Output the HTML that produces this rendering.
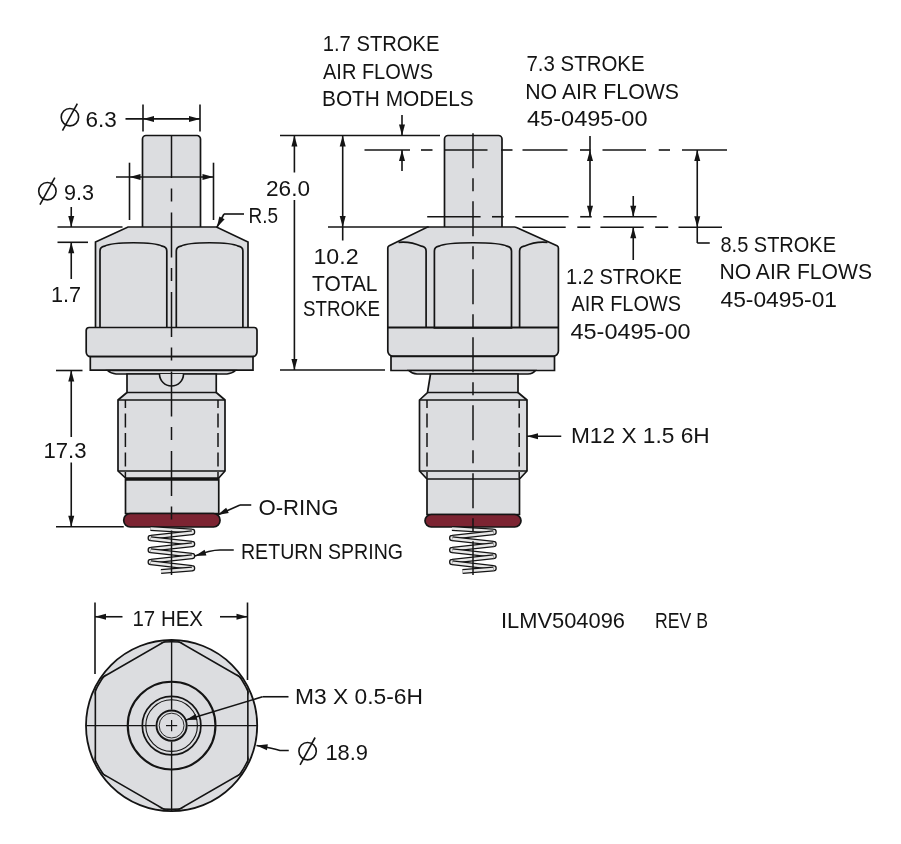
<!DOCTYPE html><html><head><meta charset="utf-8"><style>html,body{margin:0;padding:0;background:#fff;}svg{display:block}</style></head><body>
<svg width="901" height="844" viewBox="0 0 901 844" stroke="#141414" fill="none" stroke-linecap="butt">
<rect width="901" height="844" fill="#fff" stroke="none"/>
<path d="M142.5 227V139a3.5 3.5 0 0 1 3.5-3.5H197a3.5 3.5 0 0 1 3.5 3.5V227" fill="#dcdde0" stroke-width="1.7"/>
<path d="M128 227H216.5L248 242V328H95.5V242Z" fill="#dcdde0" stroke-width="1.7"/>
<path d="M100 328V251C100 248 101.5 246.8 104.5 246.2C113 241.6 153.8 241.6 162.3 246.2C165.3 246.8 166.8 248 166.8 251V328Z" fill="#dcdde0" stroke-width="1.7"/>
<path d="M176.3 328V251C176.3 248 177.8 246.8 180.8 246.2C189.3 241.6 229.9 241.6 238.4 246.2C241.4 246.8 242.9 248 242.9 251V328Z" fill="#dcdde0" stroke-width="1.7"/>
<path d="M89.25 327.5H254a3 3 0 0 1 3 3V352.1a4.5 4.5 0 0 1-4.5 4.5H90.7a4.5 4.5 0 0 1-4.5-4.5V330.5a3 3 0 0 1 3-3Z" fill="#dcdde0" stroke-width="1.7"/>
<path d="M90.3 356.6H253V370.2H90.3Z" fill="#dcdde0" stroke-width="1.7"/>
<path d="M107.5 370.5Q111 373.7 116 374H227Q232 373.7 235.5 370.5Z" fill="#dcdde0" stroke-width="1.6"/>
<path d="M127 374V392.5L118 400V471L125.5 478V513.5H218.75V478L225 471V400L216.25 392.5V374Z" fill="#dcdde0" stroke-width="1.7"/>
<line x1="127" y1="392.5" x2="216.25" y2="392.5" stroke-width="1.6" />
<line x1="118" y1="400" x2="225" y2="400" stroke-width="1.6" />
<line x1="118" y1="471" x2="225" y2="471" stroke-width="1.6" />
<line x1="125.5" y1="479" x2="218.75" y2="479" stroke-width="3.6" />
<path d="M159.5 374A12 12 0 0 0 183.5 374" fill="#dcdde0" stroke-width="1.6"/>
<line x1="125.4" y1="400" x2="125.4" y2="478" stroke-width="1.5" stroke-dasharray="14 5.5" stroke-dashoffset="6"/>
<line x1="218" y1="400" x2="218" y2="478" stroke-width="1.5" stroke-dasharray="14 5.5" stroke-dashoffset="6"/>
<rect x="123.75" y="513.5" width="96.25" height="13.5" rx="6.5" fill="#7c2432" stroke-width="1.7"/>
<path d="M150.50 528.60L192.00 531.10A0.8 0.8 0 0 1 192.00 532.70" fill="none" stroke="#141414" stroke-width="5.0" stroke-linejoin="round" stroke-linecap="butt"/>
<path d="M150.50 528.60L192.00 531.10A0.8 0.8 0 0 1 192.00 532.70" fill="none" stroke="#e8e8e8" stroke-width="2.5" stroke-linejoin="round" stroke-linecap="butt"/>
<path d="M192.00 532.70L150.80 537.20A0.8 0.8 0 0 0 150.80 538.80" fill="none" stroke="#141414" stroke-width="5.0" stroke-linejoin="round" stroke-linecap="butt"/>
<path d="M192.00 532.70L150.80 537.20A0.8 0.8 0 0 0 150.80 538.80" fill="none" stroke="#e8e8e8" stroke-width="2.5" stroke-linejoin="round" stroke-linecap="butt"/>
<path d="M150.80 538.80L192.00 543.20A0.8 0.8 0 0 1 192.00 544.80" fill="none" stroke="#141414" stroke-width="5.0" stroke-linejoin="round" stroke-linecap="butt"/>
<path d="M150.80 538.80L192.00 543.20A0.8 0.8 0 0 1 192.00 544.80" fill="none" stroke="#e8e8e8" stroke-width="2.5" stroke-linejoin="round" stroke-linecap="butt"/>
<path d="M192.00 544.80L150.80 549.20A0.8 0.8 0 0 0 150.80 550.80" fill="none" stroke="#141414" stroke-width="5.0" stroke-linejoin="round" stroke-linecap="butt"/>
<path d="M192.00 544.80L150.80 549.20A0.8 0.8 0 0 0 150.80 550.80" fill="none" stroke="#e8e8e8" stroke-width="2.5" stroke-linejoin="round" stroke-linecap="butt"/>
<path d="M150.80 550.80L192.00 555.20A0.8 0.8 0 0 1 192.00 556.80" fill="none" stroke="#141414" stroke-width="5.0" stroke-linejoin="round" stroke-linecap="butt"/>
<path d="M150.80 550.80L192.00 555.20A0.8 0.8 0 0 1 192.00 556.80" fill="none" stroke="#e8e8e8" stroke-width="2.5" stroke-linejoin="round" stroke-linecap="butt"/>
<path d="M192.00 556.80L150.80 561.20A0.8 0.8 0 0 0 150.80 562.80" fill="none" stroke="#141414" stroke-width="5.0" stroke-linejoin="round" stroke-linecap="butt"/>
<path d="M192.00 556.80L150.80 561.20A0.8 0.8 0 0 0 150.80 562.80" fill="none" stroke="#e8e8e8" stroke-width="2.5" stroke-linejoin="round" stroke-linecap="butt"/>
<path d="M150.80 562.80L192.00 567.40A0.8 0.8 0 0 1 192.00 569.00" fill="none" stroke="#141414" stroke-width="5.0" stroke-linejoin="round" stroke-linecap="butt"/>
<path d="M150.80 562.80L192.00 567.40A0.8 0.8 0 0 1 192.00 569.00" fill="none" stroke="#e8e8e8" stroke-width="2.5" stroke-linejoin="round" stroke-linecap="butt"/>
<path d="M192.00 569.00L161.00 571.60" fill="none" stroke="#141414" stroke-width="5.0" stroke-linejoin="round" stroke-linecap="butt"/>
<path d="M192.00 569.00L161.00 571.60" fill="none" stroke="#e8e8e8" stroke-width="2.5" stroke-linejoin="round" stroke-linecap="butt"/>
<line x1="171.5" y1="135.5" x2="171.5" y2="575" stroke-width="1.5" stroke-dasharray="45 10.5 13 11" stroke-dashoffset="2.5"/>
<path d="M444.5 227V139a3.5 3.5 0 0 1 3.5-3.5H498.5a3.5 3.5 0 0 1 3.5 3.5V227" fill="#dcdde0" stroke-width="1.7"/>
<path d="M427.5 227H514.5Q515.5 227 516.5 227.5L557 245.8Q558.4 246.5 558.4 248V351a5 5 0 0 1-5 5H392.8a5 5 0 0 1-5-5V248Q387.8 246.5 389.2 245.8Z" fill="#dcdde0" stroke-width="1.7"/>
<path d="M426.1 328V251C426.1 248 424.6 246.8 421.6 246.2Q410.1 241 398.5 242.3" fill="none" stroke-width="1.7"/>
<path d="M434.4 328V251C434.4 248 435.9 246.8 438.9 246.2C447.4 241.6 498.5 241.6 507 246.2C510 246.8 511.5 248 511.5 251V328Z" fill="#dcdde0" stroke-width="1.7"/>
<path d="M519.6 328V251C519.6 248 521.1 246.8 524.1 246.2Q535.6 241 547.5 242.3" fill="none" stroke-width="1.7"/>
<line x1="387.5" y1="327.5" x2="558.75" y2="327.5" stroke-width="1.9" />
<path d="M391 356.5H554.5V370.5H391Z" fill="#dcdde0" stroke-width="1.7"/>
<path d="M408.75 370.5Q412 373.7 417 374H528Q533 373.7 535.5 370.5Z" fill="#dcdde0" stroke-width="1.6"/>
<path d="M430.5 374L427.5 392.5L419.5 400V471L427 479V514.5H519.5V479L527 471V400L518 392.5V374Z" fill="#dcdde0" stroke-width="1.7"/>
<line x1="427.5" y1="392.5" x2="518" y2="392.5" stroke-width="1.6" />
<line x1="419.5" y1="400" x2="527" y2="400" stroke-width="1.6" />
<line x1="419.5" y1="471" x2="527" y2="471" stroke-width="1.6" />
<line x1="427" y1="479" x2="519.5" y2="479" stroke-width="1.6" />
<line x1="427" y1="400" x2="427" y2="478" stroke-width="1.5" stroke-dasharray="14 5.5" stroke-dashoffset="6"/>
<line x1="519.2" y1="400" x2="519.2" y2="478" stroke-width="1.5" stroke-dasharray="14 5.5" stroke-dashoffset="6"/>
<rect x="425" y="514.5" width="96" height="12.5" rx="6.25" fill="#7c2432" stroke-width="1.7"/>
<path d="M452.00 528.60L493.50 531.10A0.8 0.8 0 0 1 493.50 532.70" fill="none" stroke="#141414" stroke-width="5.0" stroke-linejoin="round" stroke-linecap="butt"/>
<path d="M452.00 528.60L493.50 531.10A0.8 0.8 0 0 1 493.50 532.70" fill="none" stroke="#e8e8e8" stroke-width="2.5" stroke-linejoin="round" stroke-linecap="butt"/>
<path d="M493.50 532.70L452.30 537.20A0.8 0.8 0 0 0 452.30 538.80" fill="none" stroke="#141414" stroke-width="5.0" stroke-linejoin="round" stroke-linecap="butt"/>
<path d="M493.50 532.70L452.30 537.20A0.8 0.8 0 0 0 452.30 538.80" fill="none" stroke="#e8e8e8" stroke-width="2.5" stroke-linejoin="round" stroke-linecap="butt"/>
<path d="M452.30 538.80L493.50 543.20A0.8 0.8 0 0 1 493.50 544.80" fill="none" stroke="#141414" stroke-width="5.0" stroke-linejoin="round" stroke-linecap="butt"/>
<path d="M452.30 538.80L493.50 543.20A0.8 0.8 0 0 1 493.50 544.80" fill="none" stroke="#e8e8e8" stroke-width="2.5" stroke-linejoin="round" stroke-linecap="butt"/>
<path d="M493.50 544.80L452.30 549.20A0.8 0.8 0 0 0 452.30 550.80" fill="none" stroke="#141414" stroke-width="5.0" stroke-linejoin="round" stroke-linecap="butt"/>
<path d="M493.50 544.80L452.30 549.20A0.8 0.8 0 0 0 452.30 550.80" fill="none" stroke="#e8e8e8" stroke-width="2.5" stroke-linejoin="round" stroke-linecap="butt"/>
<path d="M452.30 550.80L493.50 555.20A0.8 0.8 0 0 1 493.50 556.80" fill="none" stroke="#141414" stroke-width="5.0" stroke-linejoin="round" stroke-linecap="butt"/>
<path d="M452.30 550.80L493.50 555.20A0.8 0.8 0 0 1 493.50 556.80" fill="none" stroke="#e8e8e8" stroke-width="2.5" stroke-linejoin="round" stroke-linecap="butt"/>
<path d="M493.50 556.80L452.30 561.20A0.8 0.8 0 0 0 452.30 562.80" fill="none" stroke="#141414" stroke-width="5.0" stroke-linejoin="round" stroke-linecap="butt"/>
<path d="M493.50 556.80L452.30 561.20A0.8 0.8 0 0 0 452.30 562.80" fill="none" stroke="#e8e8e8" stroke-width="2.5" stroke-linejoin="round" stroke-linecap="butt"/>
<path d="M452.30 562.80L493.50 567.40A0.8 0.8 0 0 1 493.50 569.00" fill="none" stroke="#141414" stroke-width="5.0" stroke-linejoin="round" stroke-linecap="butt"/>
<path d="M452.30 562.80L493.50 567.40A0.8 0.8 0 0 1 493.50 569.00" fill="none" stroke="#e8e8e8" stroke-width="2.5" stroke-linejoin="round" stroke-linecap="butt"/>
<path d="M493.50 569.00L462.50 571.60" fill="none" stroke="#141414" stroke-width="5.0" stroke-linejoin="round" stroke-linecap="butt"/>
<path d="M493.50 569.00L462.50 571.60" fill="none" stroke="#e8e8e8" stroke-width="2.5" stroke-linejoin="round" stroke-linecap="butt"/>
<line x1="473" y1="133.3" x2="473" y2="575" stroke-width="1.5" stroke-dasharray="35 10 13 10"/>
<defs><clipPath id="cc"><circle cx="171.6" cy="725.6" r="84.64999999999999"/></clipPath><clipPath id="hc"><path d="M171.6 636.57L248.7 681.09L248.7 770.11L171.6 814.63L94.5 770.11L94.5 681.09Z"/></clipPath></defs>
<circle cx="171.6" cy="725.6" r="85.6" fill="#dcdde0" stroke="none"/>
<path d="M171.6 637.55L247.85 681.58L247.85 769.62L171.6 813.65L95.35 769.62L95.35 681.58Z" fill="none" stroke-width="1.6" clip-path="url(#cc)"/>
<circle cx="171.6" cy="725.6" r="83.8" fill="none" stroke-width="1.6" clip-path="url(#hc)"/>
<circle cx="171.6" cy="725.6" r="85.6" fill="none" stroke-width="1.8"/>
<line x1="86" y1="725.6" x2="155.6" y2="725.6" stroke-width="1.4" />
<line x1="187.6" y1="725.6" x2="257.2" y2="725.6" stroke-width="1.4" />
<line x1="171.6" y1="640" x2="171.6" y2="709.6" stroke-width="1.4" />
<line x1="171.6" y1="741.6" x2="171.6" y2="811.2" stroke-width="1.4" />
<circle cx="171.6" cy="725.6" r="43.85" fill="none" stroke-width="2.1"/>
<circle cx="171.6" cy="725.6" r="29.3" fill="none" stroke-width="1.7"/>
<circle cx="171.6" cy="725.6" r="25.8" fill="none" stroke-width="1.1"/>
<circle cx="171.6" cy="725.6" r="15.1" fill="none" stroke-width="1.9"/>
<circle cx="171.6" cy="725.6" r="12.4" fill="none" stroke-width="0.9"/>
<line x1="166" y1="725.6" x2="177.2" y2="725.6" stroke-width="1.2" />
<line x1="171.6" y1="720" x2="171.6" y2="731.2" stroke-width="1.2" />
<line x1="143" y1="104.4" x2="143" y2="131.6" stroke-width="1.6" />
<line x1="200" y1="104.4" x2="200" y2="131.6" stroke-width="1.6" />
<line x1="125.5" y1="118.9" x2="200" y2="118.9" stroke-width="1.6" />
<path d="M143 118.9L154 115.9L154 121.9Z" fill="#141414" stroke="none"/>
<path d="M200 118.9L189 121.9L189 115.9Z" fill="#141414" stroke="none"/>
<line x1="129.5" y1="162.7" x2="129.5" y2="220" stroke-width="1.6" />
<line x1="213.5" y1="162.7" x2="213.5" y2="220" stroke-width="1.6" />
<line x1="116" y1="177" x2="213.5" y2="177" stroke-width="1.6" />
<path d="M129.5 177L140.5 174L140.5 180Z" fill="#141414" stroke="none"/>
<path d="M213.5 177L202.5 180L202.5 174Z" fill="#141414" stroke="none"/>
<line x1="224" y1="214" x2="244" y2="214" stroke-width="1.6" />
<line x1="216.8" y1="227.5" x2="224" y2="214" stroke-width="1.6" />
<path d="M216.8 227.5L219.34 216.38L224.63 219.21Z" fill="#141414" stroke="none"/>
<line x1="57.5" y1="227" x2="122.5" y2="227" stroke-width="1.6" />
<line x1="57.5" y1="242.3" x2="88" y2="242.3" stroke-width="1.6" />
<line x1="71.25" y1="207" x2="71.25" y2="227" stroke-width="1.6" />
<path d="M71.25 227L68.25 216L74.25 216Z" fill="#141414" stroke="none"/>
<line x1="71.25" y1="242.3" x2="71.25" y2="279" stroke-width="1.6" />
<path d="M71.25 242.3L74.25 253.3L68.25 253.3Z" fill="#141414" stroke="none"/>
<line x1="56" y1="370.5" x2="82.5" y2="370.5" stroke-width="1.6" />
<line x1="56" y1="526.8" x2="123.75" y2="526.8" stroke-width="1.6" />
<line x1="71.25" y1="370.5" x2="71.25" y2="437" stroke-width="1.6" />
<path d="M71.25 370.5L74.25 381.5L68.25 381.5Z" fill="#141414" stroke="none"/>
<line x1="71.25" y1="462.5" x2="71.25" y2="526.8" stroke-width="1.6" />
<path d="M71.25 526.8L68.25 515.8L74.25 515.8Z" fill="#141414" stroke="none"/>
<line x1="280" y1="135.5" x2="440" y2="135.5" stroke-width="1.6" />
<line x1="280" y1="370" x2="385" y2="370" stroke-width="1.6" />
<line x1="294.4" y1="135.5" x2="294.4" y2="172.5" stroke-width="1.6" />
<line x1="294.4" y1="200" x2="294.4" y2="370" stroke-width="1.6" />
<path d="M294.4 135.5L297.4 146.5L291.4 146.5Z" fill="#141414" stroke="none"/>
<path d="M294.4 370L291.4 359L297.4 359Z" fill="#141414" stroke="none"/>
<line x1="328" y1="227" x2="428.75" y2="227" stroke-width="1.6" />
<line x1="342.7" y1="135.5" x2="342.7" y2="240.5" stroke-width="1.6" />
<path d="M342.7 135.5L345.7 146.5L339.7 146.5Z" fill="#141414" stroke="none"/>
<path d="M342.7 227L339.7 216L345.7 216Z" fill="#141414" stroke="none"/>
<line x1="402" y1="115" x2="402" y2="135.5" stroke-width="1.6" />
<path d="M402 135.5L399 124.5L405 124.5Z" fill="#141414" stroke="none"/>
<line x1="402" y1="150" x2="402" y2="171" stroke-width="1.6" />
<path d="M402 150L405 161L399 161Z" fill="#141414" stroke="none"/>
<line x1="364.5" y1="150" x2="410" y2="150" stroke-width="1.6" />
<line x1="421" y1="150" x2="432.5" y2="150" stroke-width="1.6" />
<line x1="444.5" y1="150" x2="487.5" y2="150" stroke-width="1.6" />
<line x1="501" y1="150" x2="512.5" y2="150" stroke-width="1.6" />
<line x1="522.5" y1="150" x2="567.5" y2="150" stroke-width="1.6" />
<line x1="580" y1="150" x2="590.5" y2="150" stroke-width="1.6" />
<line x1="602.5" y1="150" x2="646" y2="150" stroke-width="1.6" />
<line x1="658.75" y1="150" x2="670" y2="150" stroke-width="1.6" />
<line x1="682" y1="150" x2="727" y2="150" stroke-width="1.6" />
<line x1="427.2" y1="216.75" x2="480.6" y2="216.75" stroke-width="1.6" />
<line x1="492" y1="216.75" x2="503.7" y2="216.75" stroke-width="1.6" />
<line x1="515.2" y1="216.75" x2="568.6" y2="216.75" stroke-width="1.6" />
<line x1="580.2" y1="216.75" x2="591.7" y2="216.75" stroke-width="1.6" />
<line x1="603.3" y1="216.75" x2="656.7" y2="216.75" stroke-width="1.6" />
<line x1="522.5" y1="227.2" x2="565.7" y2="227.2" stroke-width="1.6" />
<line x1="577.3" y1="227.2" x2="590.3" y2="227.2" stroke-width="1.6" />
<line x1="600.4" y1="227.2" x2="643.7" y2="227.2" stroke-width="1.6" />
<line x1="655.2" y1="227.2" x2="668.2" y2="227.2" stroke-width="1.6" />
<line x1="678.5" y1="227.2" x2="722" y2="227.2" stroke-width="1.6" />
<line x1="590" y1="136" x2="590" y2="216.75" stroke-width="1.6" />
<path d="M590 150L593 161L587 161Z" fill="#141414" stroke="none"/>
<path d="M590 216.75L587 205.75L593 205.75Z" fill="#141414" stroke="none"/>
<line x1="633.25" y1="196" x2="633.25" y2="216.75" stroke-width="1.6" />
<path d="M633.25 216.75L630.25 205.75L636.25 205.75Z" fill="#141414" stroke="none"/>
<line x1="633.25" y1="227.2" x2="633.25" y2="260" stroke-width="1.6" />
<path d="M633.25 227.2L636.25 238.2L630.25 238.2Z" fill="#141414" stroke="none"/>
<line x1="697.25" y1="150" x2="697.25" y2="243" stroke-width="1.6" />
<path d="M697.25 150L700.25 161L694.25 161Z" fill="#141414" stroke="none"/>
<path d="M697.25 227.2L694.25 216.2L700.25 216.2Z" fill="#141414" stroke="none"/>
<line x1="697.25" y1="243" x2="709.75" y2="243" stroke-width="1.6" />
<line x1="217.5" y1="515" x2="240" y2="505" stroke-width="1.6" />
<line x1="240" y1="505" x2="251.25" y2="505" stroke-width="1.6" />
<path d="M217.5 515L226.2 507.63L228.74 513.07Z" fill="#141414" stroke="none"/>
<path d="M195 556Q210 550 220 550H233.75" stroke-width="1.6"/>
<path d="M195 556L204.59 549.83L206.39 555.55Z" fill="#141414" stroke="none"/>
<line x1="527" y1="436.25" x2="561.25" y2="436.25" stroke-width="1.6" />
<path d="M527 436.25L538 433.25L538 439.25Z" fill="#141414" stroke="none"/>
<line x1="95" y1="602.5" x2="95" y2="674" stroke-width="1.6" />
<line x1="247.5" y1="602.5" x2="247.5" y2="680" stroke-width="1.6" />
<line x1="95" y1="616.75" x2="122.5" y2="616.75" stroke-width="1.6" />
<path d="M95 616.75L106 613.75L106 619.75Z" fill="#141414" stroke="none"/>
<line x1="220" y1="616.75" x2="247.5" y2="616.75" stroke-width="1.6" />
<path d="M247.5 616.75L236.5 619.75L236.5 613.75Z" fill="#141414" stroke="none"/>
<line x1="186" y1="720" x2="262.5" y2="696.75" stroke-width="1.6" />
<line x1="262.5" y1="696.75" x2="288.5" y2="696.75" stroke-width="1.6" />
<path d="M186 720L195.66 713.94L197.4 719.68Z" fill="#141414" stroke="none"/>
<path d="M256.5 745.5Q272 748 280 750.5H288.75" stroke-width="1.6"/>
<path d="M256.5 745.5L267.83 744.2L266.92 750.13Z" fill="#141414" stroke="none"/>
<g fill="#141414" stroke="none" font-family="Liberation Sans, sans-serif" font-size="22.3" style="will-change:transform">
<text x="322.74" y="51" textLength="116.77" lengthAdjust="spacingAndGlyphs">1.7 STROKE</text>
<text x="323" y="79" textLength="110" lengthAdjust="spacingAndGlyphs">AIR FLOWS</text>
<text x="321.99" y="106" textLength="151.76" lengthAdjust="spacingAndGlyphs">BOTH MODELS</text>
<text x="526.5" y="71.4" textLength="118.01" lengthAdjust="spacingAndGlyphs">7.3 STROKE</text>
<text x="525.24" y="98.7" textLength="153.77" lengthAdjust="spacingAndGlyphs">NO AIR FLOWS</text>
<text x="527" y="126" textLength="120.5" lengthAdjust="spacingAndGlyphs">45-0495-00</text>
<text x="85.5" y="126.7" textLength="31.27" lengthAdjust="spacingAndGlyphs">6.3</text>
<text x="64" y="200.3" textLength="30" lengthAdjust="spacingAndGlyphs">9.3</text>
<text x="248.47" y="222.6" textLength="29.56" lengthAdjust="spacingAndGlyphs">R.5</text>
<text x="265.99" y="196" textLength="44.01" lengthAdjust="spacingAndGlyphs">26.0</text>
<text x="313.42" y="263.8" textLength="45.14" lengthAdjust="spacingAndGlyphs">10.2</text>
<text x="312" y="291.3" textLength="65.51" lengthAdjust="spacingAndGlyphs">TOTAL</text>
<text x="302.99" y="315.6" textLength="77.01" lengthAdjust="spacingAndGlyphs">STROKE</text>
<text x="565.98" y="283.7" textLength="116.02" lengthAdjust="spacingAndGlyphs">1.2 STROKE</text>
<text x="571.49" y="311.4" textLength="109.51" lengthAdjust="spacingAndGlyphs">AIR FLOWS</text>
<text x="570.49" y="338.6" textLength="120.02" lengthAdjust="spacingAndGlyphs">45-0495-00</text>
<text x="720.5" y="251.7" textLength="115.5" lengthAdjust="spacingAndGlyphs">8.5 STROKE</text>
<text x="719.49" y="279.4" textLength="152.51" lengthAdjust="spacingAndGlyphs">NO AIR FLOWS</text>
<text x="720.5" y="307" textLength="116.51" lengthAdjust="spacingAndGlyphs">45-0495-01</text>
<text x="50.95" y="302.3" textLength="30.1" lengthAdjust="spacingAndGlyphs">1.7</text>
<text x="43.45" y="458" textLength="43.06" lengthAdjust="spacingAndGlyphs">17.3</text>
<text x="258.48" y="514.5" textLength="80.04" lengthAdjust="spacingAndGlyphs">O-RING</text>
<text x="240.99" y="558.5" textLength="162.03" lengthAdjust="spacingAndGlyphs">RETURN SPRING</text>
<text x="570.98" y="442.5" textLength="138.78" lengthAdjust="spacingAndGlyphs">M12 X 1.5 6H</text>
<text x="132.46" y="626" textLength="70.55" lengthAdjust="spacingAndGlyphs">17 HEX</text>
<text x="294.98" y="703.5" textLength="128.04" lengthAdjust="spacingAndGlyphs">M3 X 0.5-6H</text>
<text x="325.44" y="760" textLength="42.58" lengthAdjust="spacingAndGlyphs">18.9</text>
<text x="500.99" y="627.8" textLength="124.02" lengthAdjust="spacingAndGlyphs">ILMV504096</text>
<text x="654.99" y="627.8" textLength="53.01" lengthAdjust="spacingAndGlyphs">REV B</text>
</g>
<g stroke="#141414">
<circle cx="69.9" cy="117.2" r="8.7" fill="none" stroke-width="1.6"/>
<line x1="62.48" y1="130.7" x2="77.33" y2="103.7" stroke-width="1.6" />
<circle cx="47.4" cy="191.2" r="8.7" fill="none" stroke-width="1.6"/>
<line x1="39.97" y1="204.7" x2="54.83" y2="177.7" stroke-width="1.6" />
<circle cx="307.6" cy="751.2" r="8.7" fill="none" stroke-width="1.6"/>
<line x1="300.06" y1="764.9" x2="315.14" y2="737.5" stroke-width="1.6" />
</g>
</svg></body></html>
